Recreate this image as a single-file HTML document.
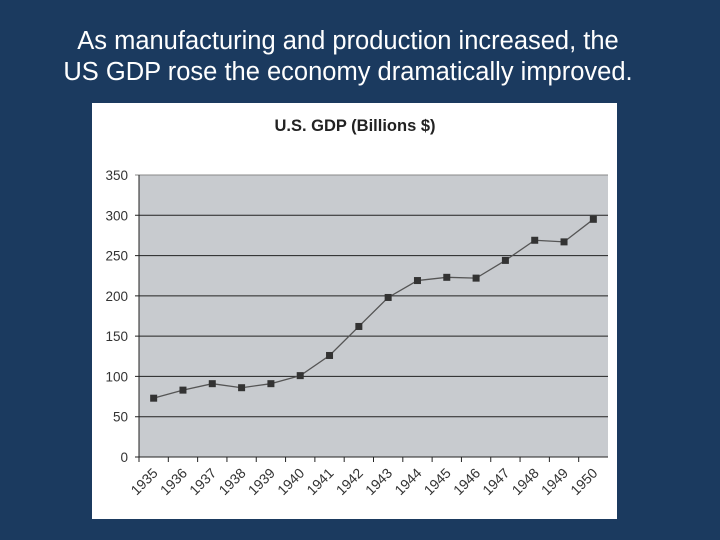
<!DOCTYPE html>
<html><head><meta charset="utf-8"><style>
html,body{margin:0;padding:0;width:720px;height:540px;background:#1b3a5f;overflow:hidden}
#t{position:absolute;left:0;top:26px;width:696px;text-align:center;color:#fff;font-family:"Liberation Sans",sans-serif;font-size:25.5px;line-height:31px}
svg{position:absolute;left:0;top:0}
</style></head><body>
<div id="t">As manufacturing and production increased, the<br>US GDP rose the economy dramatically improved.</div>
<svg width="720" height="540" id="s">
<rect x="92" y="103" width="525" height="416" fill="#fff"/>
<text x="355" y="131" text-anchor="middle" font-family="Liberation Sans,sans-serif" font-weight="bold" font-size="16.5" fill="#222">U.S. GDP (Billions $)</text>
<rect x="139" y="175" width="469" height="282" fill="#c8cbcf"/>
<g id="g"></g>
</svg>
<script>
const years=["1935","1936","1937","1938","1939","1940","1941","1942","1943","1944","1945","1946","1947","1948","1949","1950"];
const gdp=[73,83,91,86,91,101,126,162,198,219,223,222,244,269,267,295];
const yTicks=[0,50,100,150,200,250,300,350];
const L=139,R=608,T=175,B=457,MAX=350;
const bw=(R-L)/years.length;
const y=v=>B-(v/MAX)*(B-T);
const x=i=>L+bw*(i+0.5);
const g=document.getElementById('g');
const ns='http://www.w3.org/2000/svg';
function mk(t,a){const e=document.createElementNS(ns,t);for(const k in a)e.setAttribute(k,a[k]);g.appendChild(e);return e;}
yTicks.forEach(v=>{
 const l=mk('line',{x1:L-4,x2:R,y1:y(v),y2:y(v),stroke:v===MAX?'#888':'#222','stroke-width':1});
 
 
 const t=mk('text',{x:L-11,y:y(v)+5,'text-anchor':'end','font-family':'Liberation Sans,sans-serif','font-size':13.5,fill:'#333'});
 t.textContent=v;
 
 
});
const ax=mk('line',{x1:L,x2:L,y1:T,y2:B+4,stroke:'#222'});


years.forEach((yr,i)=>{
 const tk=mk('line',{x1:L+bw*i,x2:L+bw*i,y1:B,y2:B+5,stroke:'#222'});
 
 
 const cx=x(i)+5,cy=B+17;
 const t=mk('text',{x:cx,y:cy,'text-anchor':'end','font-family':'Liberation Sans,sans-serif','font-size':14,fill:'#333',transform:`rotate(-45 ${cx} ${cy})`});
 t.textContent=yr;
 
 
});
const p=mk('polyline',{points:gdp.map((v,i)=>x(i)+','+y(v)).join(' '),fill:'none',stroke:'#555','stroke-width':1.3});


gdp.forEach((v,i)=>{
 const r=mk('rect',{x:x(i)-3.5,y:y(v)-3.5,width:7,height:7,fill:'#333'});
 
 
});
</script>
</body></html>
